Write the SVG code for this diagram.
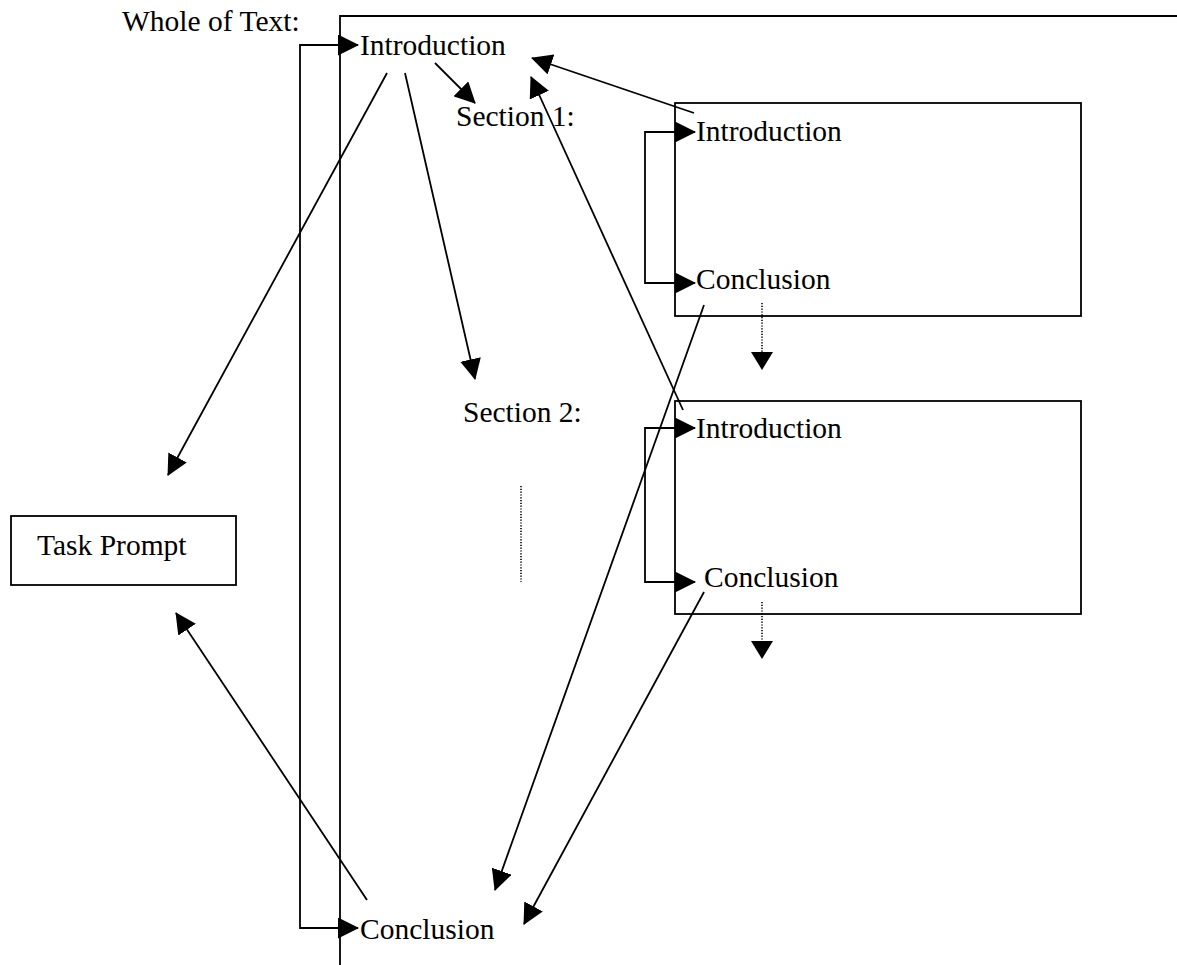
<svg xmlns="http://www.w3.org/2000/svg" width="1177" height="965" viewBox="0 0 1177 965">
  <style>
    .t { font-family: "Liberation Serif", "Times New Roman", serif; font-size: 29.5px; fill: #000; }
    .ln { fill: none; stroke: #000; stroke-width: 1.8; }
    .dot { fill: none; stroke: #000; stroke-width: 1.6; stroke-dasharray: 1.2 1.6; }
    .box { fill: #fff; stroke: #000; stroke-width: 1.8; }
  </style>
  <defs>
    <marker id="head" markerUnits="userSpaceOnUse" markerWidth="21" markerHeight="21" refX="20" refY="10.5" orient="auto-start-reverse">
      <path d="M0,0 L21,10.5 L0,21 Z" fill="#000"/>
    </marker>
  </defs>
  <rect width="1177" height="965" fill="#fff"/>

  <!-- whole-text frame -->
  <g id="whole-text">
    <path class="ln" d="M340,965 V16 H1177"/>
    <text class="t" x="122" y="31">Whole of Text:</text>
  </g>

  <g id="intro-main"><text class="t" x="360" y="55">Introduction</text></g>
  <g id="conclusion-main"><text class="t" x="360" y="939">Conclusion</text></g>
  <g id="section-1"><text class="t" x="456" y="126">Section 1:</text></g>
  <g id="section-2"><text class="t" x="463" y="422">Section 2:</text></g>

  <g id="task-prompt">
    <rect class="box" x="11" y="516" width="225" height="69"/>
    <text class="t" x="37" y="555">Task Prompt</text>
  </g>

  <g id="section-1-box">
    <rect class="box" x="675" y="103" width="406" height="213"/>
    <text class="t" x="696" y="141">Introduction</text>
    <text class="t" x="696" y="289">Conclusion</text>
  </g>

  <g id="section-2-box">
    <rect class="box" x="675" y="401" width="406" height="213"/>
    <text class="t" x="696" y="438">Introduction</text>
    <text class="t" x="704" y="587">Conclusion</text>
  </g>

  <g id="connectors">
    <!-- brackets linking introductions to conclusions -->
    <path class="ln" d="M358,45 H300 V928 H358" marker-start="url(#head)" marker-end="url(#head)"/>
    <path class="ln" d="M695,132 H645 V283 H695" marker-start="url(#head)" marker-end="url(#head)"/>
    <path class="ln" d="M695,428 H645 V582 H695" marker-start="url(#head)" marker-end="url(#head)"/>

    <!-- continuation -->
    <line class="dot" x1="521" y1="486" x2="521" y2="582"/>
    <line class="dot" x1="762" y1="303" x2="762" y2="356"/>
    <path d="M751,352 L773,352 L762,370 Z" fill="#000"/>
    <line class="dot" x1="762" y1="602" x2="762" y2="644"/>
    <path d="M751,641 L773,641 L762,659 Z" fill="#000"/>

    <!-- arrows between parts -->
    <line class="ln" x1="387" y1="73" x2="168" y2="475" marker-end="url(#head)"/>
    <line class="ln" x1="405" y1="73" x2="475" y2="379" marker-end="url(#head)"/>
    <line class="ln" x1="435" y1="63" x2="475" y2="103" marker-end="url(#head)"/>
    <line class="ln" x1="694" y1="113" x2="532" y2="58" marker-end="url(#head)"/>
    <line class="ln" x1="683" y1="410" x2="531" y2="77" marker-end="url(#head)"/>
    <line class="ln" x1="704" y1="305" x2="495" y2="890" marker-end="url(#head)"/>
    <line class="ln" x1="704" y1="592" x2="524" y2="924" marker-end="url(#head)"/>
    <line class="ln" x1="367" y1="900" x2="176" y2="613" marker-end="url(#head)"/>
  </g>
</svg>
